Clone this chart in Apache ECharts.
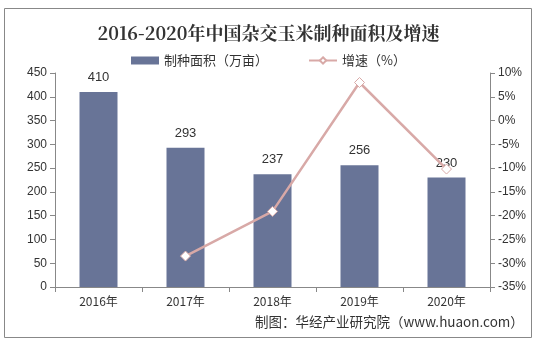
<!DOCTYPE html>
<html><head><meta charset="utf-8">
<script src="https://cdn.jsdelivr.net/npm/echarts@6/dist/echarts.min.js"></script>
<style>html,body{margin:0;padding:0;background:#fff}#c{width:537px;height:346px}</style>
</head><body><div id="c"></div>
<script>
const categories = ['2016年','2017年','2018年','2019年','2020年'];
const areaValues = [410, 293, 237, 256, 230];
const growthValues = [null, -28.5, -19.1, 8.0, -10.2];
const leftTicks = [0, 450, 50];
const rightTicks = [-35, 10, 5];

const chart = echarts.init(document.getElementById('c'));
chart.setOption({
  animation: false,
  title: {
    text: '2016-2020年中国杂交玉米制种面积及增速',
    left: 'center', top: 19,
    textStyle: {fontFamily: 'Noto Serif CJK SC, DejaVu Serif, serif', fontWeight: 'bold', fontSize: 18, color: '#333'}
  },
  legend: {
    top: 49, left: 'center', itemGap: 40, itemWidth: 28, itemHeight: 8,
    textStyle: {fontFamily: 'Noto Sans CJK SC', fontSize: 13, color: '#333'},
    data: [
      {name: '制种面积（万亩）', icon: 'rect'},
      {name: '增速（%）'}
    ]
  },
  grid: {left: 55, right: 47, top: 73, bottom: 59},
  xAxis: {
    type: 'category', data: categories,
    axisLine: {lineStyle: {color: '#888'}},
    axisTick: {show: true, alignWithLabel: false, lineStyle: {color: '#888'}},
    axisLabel: {color: '#333', fontSize: 12, fontFamily: 'Noto Sans CJK SC', margin: 8}
  },
  yAxis: [
    {type: 'value', min: leftTicks[0], max: leftTicks[1], interval: leftTicks[2],
     axisLine: {show: true, lineStyle: {color: '#888'}},
     axisTick: {show: true, lineStyle: {color: '#888'}},
     splitLine: {show: false},
     axisLabel: {color: '#333', fontSize: 12, fontFamily: 'Liberation Sans, Arial'}},
    {type: 'value', min: rightTicks[0], max: rightTicks[1], interval: rightTicks[2],
     axisLine: {show: true, lineStyle: {color: '#888'}},
     axisTick: {show: true, lineStyle: {color: '#888'}},
     splitLine: {show: false},
     axisLabel: {color: '#333', fontSize: 12, fontFamily: 'Liberation Sans, Arial', formatter: '{value}%'}}
  ],
  series: [
    {name: '制种面积（万亩）', type: 'bar', data: areaValues, barWidth: 38,
     itemStyle: {color: '#687497'},
     label: {show: true, position: 'top', distance: 8, color: '#333', fontSize: 13, fontFamily: 'Liberation Sans, Arial'}},
    {name: '增速（%）', type: 'line', yAxisIndex: 1, data: growthValues,
     symbol: 'diamond', symbolSize: 10,
     lineStyle: {color: '#d8a9a7', width: 2.5},
     itemStyle: {color: '#fff', borderColor: '#d8a9a7', borderWidth: 1}}
  ],
  graphic: [
    {type: 'rect', shape: {x: 4.5, y: 8.5, width: 527, height: 329},
     style: {fill: 'none', stroke: '#888', lineWidth: 1}, z: -1},
    {type: 'text', left: 255, top: 315,
     style: {text: '制图：华经产业研究院（www.huaon.com）', fill: '#333', font: '13.5px "Noto Sans CJK SC"'}}
  ]
});
</script></body></html>
